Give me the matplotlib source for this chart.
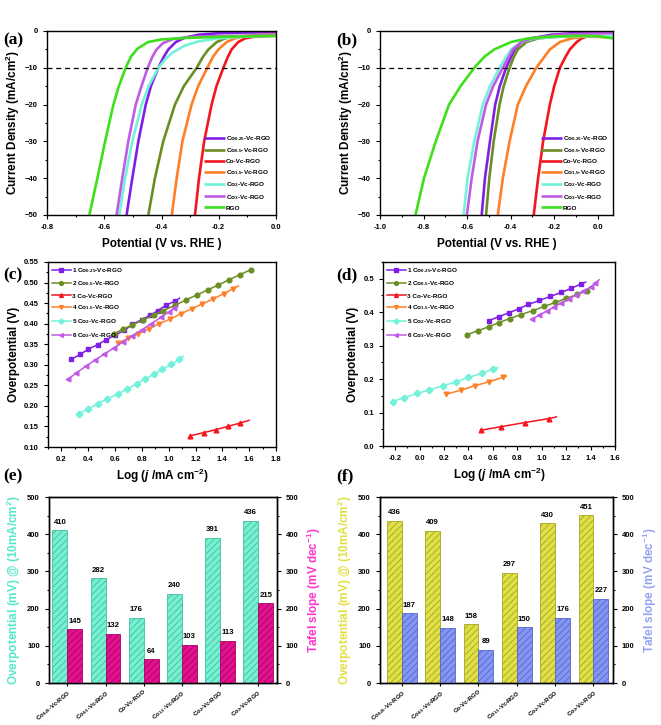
import numpy as np
import matplotlib
matplotlib.use("Agg")
import matplotlib.pyplot as plt
from matplotlib.ticker import MultipleLocator, FormatStrFormatter

# ---------------------------------------------------------------- estilo
plt.rcParams['font.family'] = 'Liberation Sans'
plt.rcParams['font.weight'] = 'bold'
plt.rcParams['axes.labelweight'] = 'bold'
plt.rcParams['mathtext.fontset'] = 'custom'
plt.rcParams['mathtext.rm'] = 'Liberation Sans:bold'
plt.rcParams['mathtext.it'] = 'Liberation Sans:bold:italic'
plt.rcParams['mathtext.bf'] = 'Liberation Sans:bold'
plt.rcParams['hatch.linewidth'] = 0.6

# ---------------------------------------------------------------- datos
SAMPLES = ['Co$_{0.25}$-Vc-RGO', 'Co$_{0.5}$-Vc-RGO', 'Co-Vc-RGO',
           'Co$_{1.5}$-Vc-RGO', 'Co$_{2}$-Vc-RGO', 'Co$_{3}$-Vc-RGO', 'RGO']
COLORS = ['#7F1FE6', '#6B8E23', '#F5151E', '#FF7F27', '#72F2DA', '#C05BE6', '#3DE01A']
MARKERS = ['s', 'o', '^', 'v', 'D', '<']

# (a) LSV, potencial (V) / densidad de corriente (mA/cm2)
A_V = [
    [-0.522, -0.502, -0.481, -0.455, -0.437, -0.411, -0.392, -0.376, -0.350, -0.318, -0.27, -0.2, -0.1, 0.0],
    [-0.446, -0.423, -0.394, -0.353, -0.322, -0.277, -0.255, -0.236, -0.207, -0.178, -0.14, -0.08, 0.0],
    [-0.283, -0.269, -0.251, -0.225, -0.208, -0.184, -0.168, -0.155, -0.132, -0.108, -0.08, -0.04, 0.0],
    [-0.364, -0.347, -0.327, -0.295, -0.272, -0.240, -0.220, -0.201, -0.172, -0.143, -0.11, -0.06, 0.0],
    [-0.548, -0.527, -0.502, -0.469, -0.445, -0.411, -0.385, -0.360, -0.320, -0.270, -0.2, -0.12, -0.05, 0.0],
    [-0.557, -0.537, -0.516, -0.490, -0.470, -0.448, -0.432, -0.417, -0.395, -0.360, -0.30, -0.2, -0.1, 0.0],
    [-0.652, -0.624, -0.597, -0.568, -0.549, -0.525, -0.507, -0.484, -0.447, -0.400, -0.32, -0.2, -0.08, 0.0],
]
A_J = [
    [-50, -40, -30, -20, -15, -10, -7, -5, -3, -1.8, -1.0, -0.6, -0.4, -0.35],
    [-50, -40, -30, -20, -15, -10, -7, -5, -3, -2, -1.5, -1.3, -1.2],
    [-50, -40, -30, -20, -15, -10, -7, -5, -3, -2, -1.6, -1.4, -1.3],
    [-50, -40, -30, -20, -15, -10, -7, -5, -3, -2, -1.4, -1.1, -1.0],
    [-50, -40, -30, -20, -15, -10, -7.5, -5.8, -4.0, -2.8, -2.0, -1.6, -1.4, -1.3],
    [-50, -40, -30, -20, -15, -10, -7, -5, -3.3, -2.2, -1.6, -1.4, -1.3, -1.2],
    [-50, -40, -30, -20, -15, -10, -7, -4.8, -3, -2.3, -1.9, -1.6, -1.4, -1.3],
]

# (b) LSV
B_V = [
    [-0.533, -0.518, -0.495, -0.471, -0.450, -0.421, -0.398, -0.382, -0.351, -0.305, -0.213, -0.09, 0.07],
    [-0.513, -0.498, -0.478, -0.451, -0.432, -0.405, -0.385, -0.367, -0.328, -0.274, -0.166, -0.05, 0.07],
    [-0.294, -0.274, -0.251, -0.220, -0.200, -0.174, -0.148, -0.128, -0.097, -0.074, -0.051, 0.0, 0.07],
    [-0.459, -0.436, -0.405, -0.367, -0.330, -0.282, -0.245, -0.220, -0.174, -0.120, -0.059, 0.0, 0.07],
    [-0.616, -0.598, -0.567, -0.528, -0.495, -0.451, -0.420, -0.398, -0.351, -0.290, -0.166, -0.05, 0.07],
    [-0.601, -0.579, -0.552, -0.513, -0.480, -0.436, -0.408, -0.390, -0.351, -0.305, -0.180, -0.05, 0.07],
    [-0.837, -0.798, -0.744, -0.683, -0.630, -0.567, -0.521, -0.475, -0.398, -0.320, -0.213, -0.09, 0.0, 0.07],
]
B_J = [
    [-50, -40, -30, -20, -15, -10, -7, -5, -3, -2, -1.0, -0.5, -0.3],
    [-50, -40, -30, -20, -15, -10, -7, -5, -3, -2, -1.5, -1.4, -1.5],
    [-50, -40, -30, -20, -15, -10, -7, -5, -3, -2, -1.5, -1.4, -1.5],
    [-50, -40, -30, -20, -15, -10, -7, -5, -3, -2, -1.5, -1.6, -1.8],
    [-50, -40, -30, -20, -15, -10, -7, -5, -3, -2, -1.5, -1.4, -1.4],
    [-50, -40, -30, -20, -15, -10, -7, -5, -3, -2, -1.0, -0.7, -0.6],
    [-50, -40, -30, -20, -15, -10, -7, -5, -3, -2, -1.5, -1.3, -1.4, -2.0],
]

# (c) Tafel, log j / sobrepotencial (V); el ultimo punto es el final de la recta
C_X = [
    [0.27, 0.34, 0.40, 0.47, 0.53, 0.60, 0.67, 0.73, 0.80, 0.86, 0.92, 0.98, 1.05, 1.08],
    [0.59, 0.66, 0.73, 0.81, 0.89, 0.96, 1.05, 1.13, 1.21, 1.29, 1.37, 1.45, 1.53, 1.61, 1.62],
    [1.16, 1.26, 1.35, 1.44, 1.53, 1.60],
    [0.62, 0.70, 0.77, 0.85, 0.93, 1.01, 1.09, 1.17, 1.25, 1.33, 1.41, 1.48, 1.52],
    [0.33, 0.40, 0.47, 0.54, 0.62, 0.69, 0.76, 0.82, 0.89, 0.95, 1.02, 1.08, 1.11],
    [0.25, 0.31, 0.38, 0.45, 0.52, 0.59, 0.66, 0.73, 0.80, 0.87, 0.94, 1.00, 1.04, 1.06],
]
C_Y = [
    [0.313, 0.325, 0.338, 0.349, 0.360, 0.372, 0.384, 0.398, 0.410, 0.420, 0.432, 0.445, 0.455, 0.462],
    [0.375, 0.387, 0.397, 0.409, 0.421, 0.432, 0.445, 0.458, 0.470, 0.482, 0.494, 0.507, 0.519, 0.531, 0.532],
    [0.127, 0.135, 0.142, 0.150, 0.158, 0.165],
    [0.353, 0.364, 0.375, 0.387, 0.400, 0.411, 0.424, 0.436, 0.448, 0.460, 0.473, 0.485, 0.492],
    [0.181, 0.193, 0.205, 0.217, 0.229, 0.241, 0.253, 0.265, 0.277, 0.289, 0.301, 0.314, 0.321],
    [0.265, 0.280, 0.296, 0.311, 0.326, 0.341, 0.356, 0.371, 0.385, 0.400, 0.415, 0.428, 0.437, 0.443],
]

# (d) Tafel
D_X = [
    [0.57, 0.65, 0.73, 0.81, 0.89, 0.98, 1.07, 1.16, 1.24, 1.32, 1.36],
    [0.39, 0.48, 0.57, 0.65, 0.74, 0.83, 0.93, 1.02, 1.11, 1.20, 1.29, 1.37, 1.38],
    [0.50, 0.67, 0.86, 1.06, 1.12],
    [0.22, 0.34, 0.45, 0.57, 0.68, 0.71],
    [-0.22, -0.13, -0.02, 0.08, 0.19, 0.30, 0.40, 0.51, 0.60, 0.64],
    [0.92, 0.98, 1.04, 1.10, 1.16, 1.22, 1.28, 1.34, 1.40, 1.44, 1.47],
]
D_Y = [
    [0.375, 0.387, 0.398, 0.410, 0.423, 0.435, 0.447, 0.459, 0.471, 0.484, 0.490],
    [0.333, 0.345, 0.357, 0.369, 0.381, 0.393, 0.405, 0.417, 0.429, 0.441, 0.453, 0.464, 0.466],
    [0.047, 0.058, 0.070, 0.082, 0.087],
    [0.155, 0.167, 0.180, 0.192, 0.205, 0.209],
    [0.133, 0.144, 0.157, 0.168, 0.180, 0.192, 0.205, 0.217, 0.230, 0.234],
    [0.379, 0.391, 0.403, 0.415, 0.427, 0.439, 0.451, 0.463, 0.475, 0.487, 0.497],
]

# (e), (f) barras
E_OVERPOT = [410, 282, 176, 240, 391, 436]
E_TAFEL = [145, 132, 64, 103, 113, 215]
F_OVERPOT = [436, 409, 158, 297, 430, 451]
F_TAFEL = [187, 148, 89, 150, 176, 227]

TICK_FS = 5.5
LABEL_FS = 8.5


def style_axes(ax):
    for s in ax.spines.values():
        s.set_linewidth(1.0)
    ax.tick_params(which='both', direction='out', top=False, right=False,
                   labelsize=TICK_FS, width=0.8)
    ax.tick_params(which='major', length=3)
    ax.tick_params(which='minor', length=1.6)


def panel_label(fig, x, y, txt):
    fig.text(x / 661, 1 - y / 725, txt, family='Liberation Serif',
             fontweight='bold', fontsize=12.5, ha='left', va='center')


fig = plt.figure(figsize=(6.61, 7.25), dpi=100)


def ax_px(left, top, right, bottom):
    return fig.add_axes([left / 661, 1 - bottom / 725,
                         (right - left) / 661, (bottom - top) / 725])


# ---------------------------------------------------------------- (a), (b)
def lsv_panel(ax, V, J, xlim, xmaj):
    for v, j, c, lab in zip(V, J, COLORS, SAMPLES):
        ax.plot(v, j, color=c, lw=1.9, label=lab, solid_capstyle='butt')
    ax.axhline(-10, color='black', ls=(0, (4, 3)), lw=0.9)
    ax.set_xlim(*xlim)
    ax.set_ylim(-50, 0)
    ax.xaxis.set_major_locator(MultipleLocator(xmaj))
    ax.xaxis.set_minor_locator(MultipleLocator(xmaj / 2))
    ax.xaxis.set_major_formatter(FormatStrFormatter('%.1f'))
    ax.yaxis.set_major_locator(MultipleLocator(10))
    ax.yaxis.set_minor_locator(MultipleLocator(5))
    style_axes(ax)
    ax.set_xlabel('Potential (V vs. RHE )', fontsize=LABEL_FS, labelpad=5)
    ax.set_ylabel('Current Density (mA/cm$^2$)', fontsize=LABEL_FS, labelpad=2)
    ax.legend(loc='lower right', bbox_to_anchor=(1.0, 0.0), frameon=False,
              fontsize=4.6, handlelength=3.2, handletextpad=0.2,
              labelspacing=0.55, borderaxespad=0.3)


ax_a = ax_px(47, 31, 276, 215)
lsv_panel(ax_a, A_V, A_J, (-0.8, 0.0), 0.2)
ax_b = ax_px(380, 31, 613, 215)
lsv_panel(ax_b, B_V, B_J, (-1.0, 0.07), 0.2)


# ---------------------------------------------------------------- (c), (d)
def tafel_panel(ax, X, Y, xlim, ylim, ymaj, yfmt):
    for i, (x, y) in enumerate(zip(X, Y)):
        ax.plot(x, y, color=COLORS[i], marker=MARKERS[i], ms=3.4, lw=1.1,
                markevery=slice(0, len(x) - 1),
                label='%d %s' % (i + 1, SAMPLES[i]))
    ax.set_xlim(*xlim)
    ax.set_ylim(*ylim)
    ax.xaxis.set_major_locator(MultipleLocator(0.2))
    ax.xaxis.set_minor_locator(MultipleLocator(0.1))
    ax.xaxis.set_major_formatter(FormatStrFormatter('%.1f'))
    ax.yaxis.set_major_locator(MultipleLocator(ymaj))
    ax.yaxis.set_minor_locator(MultipleLocator(ymaj / 2))
    ax.yaxis.set_major_formatter(FormatStrFormatter(yfmt))
    style_axes(ax)
    ax.set_xlabel('Log ($j$ /mA cm$^{-2}$)', fontsize=LABEL_FS, labelpad=3)
    ax.set_ylabel('Overpotential (V)', fontsize=LABEL_FS, labelpad=3)
    ax.legend(loc='upper left', frameon=False, fontsize=4.6, handlelength=3.0,
              handletextpad=0.2, labelspacing=0.75, borderaxespad=0.2,
              markerscale=0.8)


ax_c = ax_px(48, 262, 276, 447)
tafel_panel(ax_c, C_X, C_Y, (0.1, 1.8), (0.10, 0.55), 0.05, '%.2f')
ax_d = ax_px(383, 262, 615, 446)
tafel_panel(ax_d, D_X, D_Y, (-0.3, 1.6), (0.0, 0.55), 0.1, '%.1f')


# ---------------------------------------------------------------- (e), (f)
def bar_panel(ax, over, tafel, xlim, c_left, e_left, c_right, e_right, lab_l, lab_r):
    idx = np.arange(len(over))
    w = 0.39
    b1 = ax.bar(idx - w / 2, over, w, color=c_left, edgecolor=e_left,
                hatch='/////', lw=0.6)
    ax2 = ax.twinx()
    b2 = ax2.bar(idx + w / 2, tafel, w, color=c_right, edgecolor=e_right,
                 hatch='/////', lw=0.6)
    for r, v in zip(b1, over):
        ax.text(r.get_x() + r.get_width() / 2, v + 12, str(v), ha='center',
                va='bottom', fontsize=5.6, fontweight='bold')
    for r, v in zip(b2, tafel):
        ax2.text(r.get_x() + r.get_width() / 2, v + 12, str(v), ha='center',
                 va='bottom', fontsize=5.6, fontweight='bold')
    for a in (ax, ax2):
        a.set_ylim(0, 500)
        a.set_xlim(*xlim)
        a.yaxis.set_major_locator(MultipleLocator(100))
        a.yaxis.set_minor_locator(MultipleLocator(50))
        for s in a.spines.values():
            s.set_linewidth(1.0)
        a.tick_params(which='both', direction='out', labelsize=TICK_FS, width=0.8)
        a.tick_params(which='major', length=3)
        a.tick_params(which='minor', length=1.6)
    ax.set_xticks(idx)
    ax.set_xticklabels(SAMPLES[:6], rotation=40, ha='right', va='top',
                       rotation_mode='anchor', fontsize=4.3)
    ax.tick_params(axis='x', length=2, pad=2)
    ax.set_ylabel(lab_l[0], color=lab_l[1], fontsize=LABEL_FS, labelpad=3)
    ax2.set_ylabel(lab_r[0], color=lab_r[1], fontsize=LABEL_FS, labelpad=4)


ax_e = ax_px(49, 497, 277, 683)
bar_panel(ax_e, E_OVERPOT, E_TAFEL, (-0.48, 5.49),
          '#76F0D0', '#3FBF9F', '#E3128C', '#A8006A',
          ('Overpotential (mV) @ (10mA/cm$^2$)', '#55E8C8'),
          ('Tafel slope (mV dec$^{-1}$)', '#FF33CC'))
ax_f = ax_px(380, 497, 613, 683)
bar_panel(ax_f, F_OVERPOT, F_TAFEL, (-0.57, 5.51),
          '#E0E048', '#A5A520', '#8595F2', '#5565CF',
          ('Overpotential (mV) @ (10mA/cm$^2$)', '#E0E040'),
          ('Tafel slope (mV dec$^{-1}$)', '#94A3F2'))

# ---------------------------------------------------------------- etiquetas
panel_label(fig, 3, 40, '(a)')
panel_label(fig, 336, 40, '(b)')
panel_label(fig, 3, 275, '(c)')
panel_label(fig, 336, 275, '(d)')
panel_label(fig, 3, 476, '(e)')
panel_label(fig, 336, 476, '(f)')

fig.savefig('out.png', dpi=100)
